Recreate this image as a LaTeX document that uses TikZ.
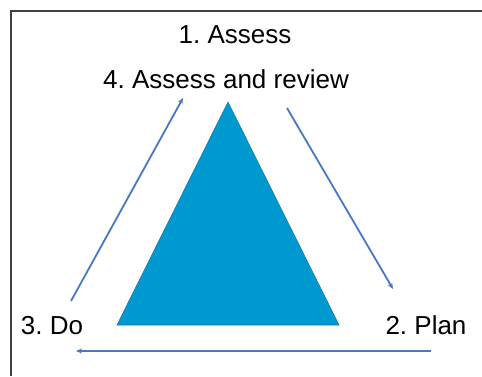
\documentclass[tikz,border=0pt]{standalone}
\usepackage{fontspec}
\setmainfont{Liberation Sans}
\usepackage{tikz}
\usetikzlibrary{arrows.meta}
\usepackage{xcolor}
\definecolor{triblue}{RGB}{0,153,207}
\definecolor{triedge}{RGB}{20,120,170}
\definecolor{arrblue}{RGB}{72,120,192}
\frenchspacing

\tikzset{
    label/.style={anchor=base, inner sep=0pt, font=\fontsize{26}{30}\selectfont},
    flow/.style={draw=arrblue, line width=1.8pt, -{Stealth[length=6pt,width=5pt]}}
}

\begin{document}
\begin{tikzpicture}[x=1pt,y=-1pt]
                \useasboundingbox (0,0) rectangle (482,376);
                \draw[line width=2pt, black!75] (11,376) -- (11,11) -- (482,11);
                \node[label] (assess) at (235,43) {1. Assess};
                \node[label] (review) at (226,88) {4. Assess and review};
                \node[label] (do) at (52,334) {3. Do};
                \node[label] (plan) at (426,334) {2. Plan};
                \filldraw[fill=triblue, draw=triedge, line width=0.6pt]
                    (228,102) coordinate (top) -- (339,325) coordinate (right)
                    -- (117,325) coordinate (left) -- cycle;
                \coordinate (a1) at (71,301);
                \coordinate (a2) at (183,98);
                \coordinate (b1) at (287,108);
                \coordinate (b2) at (393,289);
                \coordinate (c1) at (431,351);
                \coordinate (c2) at (76,351);
                \draw[flow] (b1) -- (b2);
                \draw[flow] (c1) -- (c2);
                \draw[flow] (a1) -- (a2);
            \end{tikzpicture}
\end{document}
